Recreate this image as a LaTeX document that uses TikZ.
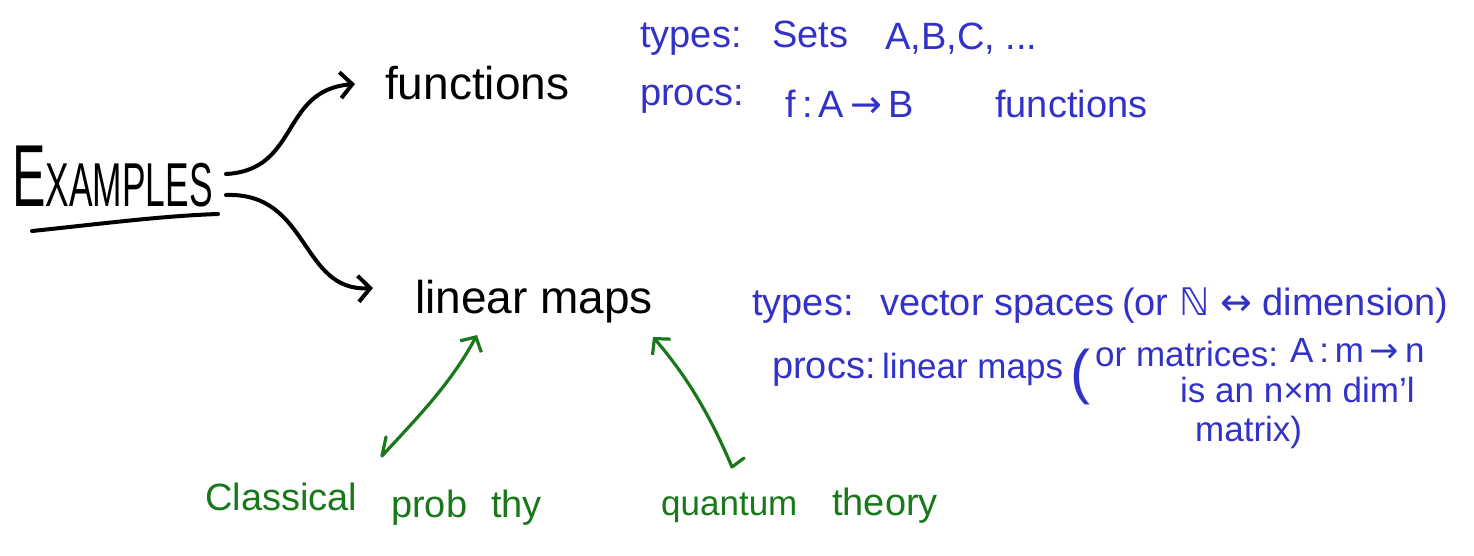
\documentclass[tikz,border=0pt]{standalone}
\usepackage{fontspec}
\setmainfont{Liberation Sans}
\newfontfamily\symf{DejaVu Sans}
\usetikzlibrary{arrows.meta}
\definecolor{hblue}{RGB}{50,50,200}
\definecolor{hgreen}{RGB}{25,120,25}
\begin{document}
\begin{tikzpicture}[x=1pt,y=-1pt,
  txt/.style={inner sep=0pt, anchor=base west},
  blk/.style={txt, font=\fontsize{46}{46}\selectfont},
  bl/.style={txt, text=hblue, font=\fontsize{38}{38}\selectfont},
  blsm/.style={txt, text=hblue, font=\fontsize{35}{35}\selectfont},
  gr/.style={txt, text=hgreen, font=\fontsize{38}{38}\selectfont},
  pen/.style={line width=4pt, line cap=round, line join=round},
  arr/.style={pen, -{Straight Barb[length=12pt,width=26pt]}},
  garr/.style={line width=3.2pt, line cap=round, line join=round, draw=hgreen,
    -{Straight Barb[length=11pt,width=24pt]}},
]
\useasboundingbox (0,0) rectangle (1474,556);

% black nodes
\node[txt] (ex) at (12,206) {\scalebox{0.57}[1]{\fontsize{88}{88}\selectfont E\fontsize{62}{62}\selectfont XAMPLES}};
\node[blk] (fn) at (385,100) {functions};
\node[blk] (lm) at (415,313) {linear maps};

% underline
\coordinate (u1) at (32,231);
\coordinate (u2) at (218,214);
\draw[pen] (u1) .. controls (100,224) and (160,216) .. (u2);

% black arrows
\coordinate (e1) at (226,174);
\coordinate (f1) at (355,84);
\coordinate (e2) at (226,195);
\coordinate (l1) at (373,288);
\draw[arr] (e1) .. controls (300,170) and (280,90) .. (f1);
\draw[arr] (e2) .. controls (310,192) and (300,292) .. (l1);

% blue, functions
\node[bl] (t1) at (640,48) {types:};
\node[bl] (s1) at (772,48) {Sets};
\node[bl] (abc) at (885,50) {A,B,C, ...};
\node[bl] (p1) at (640,106) {procs:};
\node[bl] (fab) at (785,118) {f\,:\,A\,{\symf →}\,B};
\node[bl] (fn2) at (995,118) {functions};

% blue, linear maps
\node[bl] (t2) at (752,315) {types:};
\node[bl] (vs) at (880,315) {vector spaces};
\node[bl] (dim) at (1122,315) {(or {\symf ℕ} {\symf ↔} dimension)};
\node[bl] (p2) at (772,378) {procs:};
\node[blsm] (lm2) at (882,378) {linear maps};
\node[txt, text=hblue, font=\fontsize{60}{60}\selectfont] (par) at (1070,392) {(};
\node[blsm] (mat) at (1095,366) {or matrices:};
\node[blsm] (amn) at (1290,362) {A\,:\,m\,{\symf →}\,n};
\node[blsm] (isan) at (1180,402) {is an n×m dim'l};
\node[blsm] (mtx) at (1195,441) {matrix)};

% green labels
\node[gr] (cl) at (205,510) {Classical};
\node[gr] (pr) at (391,517) {prob};
\node[gr] (th) at (491,517) {thy};
\node[gr, font=\fontsize{35}{35}\selectfont] (qu) at (661,515) {quantum};
\node[gr] (ty) at (832,515) {theory};

% green arrows
\coordinate (g1a) at (386,437);
\coordinate (g1b) at (382,456);
\coordinate (g1t) at (477,335);
\coordinate (g2a) at (744,458);
\coordinate (g2b) at (732,467);
\coordinate (g2t) at (653,337);
\draw[garr] (g1a) -- (g1b) .. controls (415,420) and (450,385) .. (g1t);
\draw[garr] (g2a) -- (g2b) .. controls (712,420) and (690,380) .. (g2t);
\end{tikzpicture}
\end{document}
